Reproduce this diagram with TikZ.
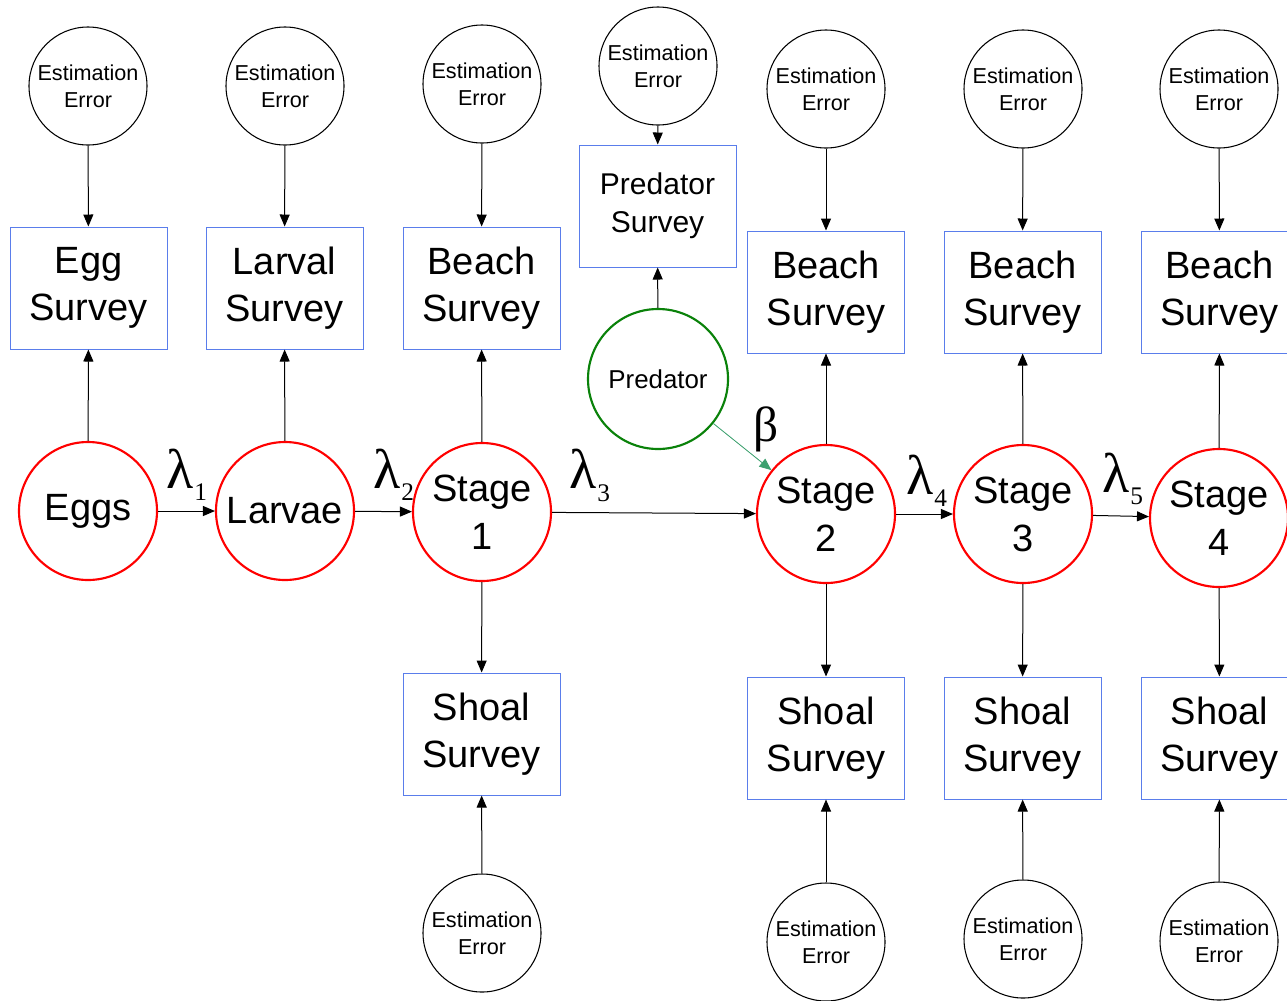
\documentclass[tikz,border=0pt]{standalone}
\usepackage{fontspec}
\setmainfont{Liberation Sans}
\newfontfamily\serifgreek{Liberation Serif}
\usetikzlibrary{arrows.meta}
\definecolor{boxblue}{RGB}{90,125,235}
\definecolor{predgreen}{RGB}{10,130,10}
\definecolor{betagreen}{RGB}{60,160,110}
\begin{document}
\begin{tikzpicture}[x=0.75pt,y=-0.75pt,
  errc/.style={circle,draw=black,line width=0.8pt,minimum size=88.5pt,inner sep=0pt,align=center,
    font=\fontsize{16.2pt}{20.25pt}\selectfont},
  survbox/.style={rectangle,draw=boxblue,line width=0.75pt,minimum width=117.75pt,minimum height=91.5pt,
    inner sep=0pt,align=center,font=\fontsize{28.5pt}{35.25pt}\selectfont},
  predbox/.style={survbox,font=\fontsize{22.5pt}{28.5pt}\selectfont},
  stagec/.style={circle,draw=red,line width=1.6pt,minimum size=103.5pt,inner sep=0pt,align=center,
    font=\fontsize{28.5pt}{36pt}\selectfont},
  predc/.style={circle,draw=predgreen,line width=1.6pt,minimum size=105pt,inner sep=0pt,
    font=\fontsize{19.4pt}{24pt}\selectfont},
  arr/.style={draw=black,line width=0.75pt,-{Triangle[length=9pt,width=7.5pt]}},
  lam/.style={anchor=base west,inner sep=0pt,font=\serifgreek\fontsize{42pt}{42pt}\selectfont},
  sub/.style={anchor=base west,inner sep=0pt,font=\serifgreek\fontsize{19pt}{19pt}\selectfont}
]
\clip (0,0) rectangle (1287,1000);
\useasboundingbox (0,0) rectangle (1287,1000);
\fill[white] (0,0) rectangle (1287,1000);

% top estimation error circles
\node[errc] (e1) at (88,86) {Estimation\\Error};
\node[errc] (e2) at (285,86) {Estimation\\Error};
\node[errc] (e3) at (482,84) {Estimation\\Error};
\node[errc] (ep) at (658,66) {Estimation\\Error};
\node[errc] (e4) at (826,89) {Estimation\\Error};
\node[errc] (e5) at (1023,89) {Estimation\\Error};
\node[errc] (e6) at (1219,89) {Estimation\\Error};

% upper survey boxes
\node[survbox] (egg) at (88.5,288) {Egg\\Survey};
\node[survbox] (larv) at (284.5,288) {Larval\\Survey};
\node[survbox] (b1) at (481.5,288) {Beach\\Survey};
\node[predbox] (ps) at (657.5,206) {Predator\\Survey};
\node[survbox] (b2) at (826,292) {Beach\\Survey};
\node[survbox] (b3) at (1022.5,292) {Beach\\Survey};
\node[survbox] (b4) at (1219.5,292) {Beach\\Survey};

% life stages
\node[stagec] (eggs) at (88,511) {Eggs};
\node[stagec] (larvae) at (285,511) {Larvae};
\node[stagec] (s1) at (482,512) {Stage\\1};
\node[stagec] (s2) at (826,514) {Stage\\2};
\node[stagec] (s3) at (1023,514) {Stage\\3};
\node[stagec] (s4) at (1219,518) {Stage\\4};
\node[predc] (pred) at (658,379) {Predator};

% lower survey boxes
\node[survbox] (sh1) at (481.5,734) {Shoal\\Survey};
\node[survbox] (sh2) at (826,738) {Shoal\\Survey};
\node[survbox] (sh3) at (1022.5,738) {Shoal\\Survey};
\node[survbox] (sh4) at (1219.5,738) {Shoal\\Survey};

% bottom estimation error circles
\node[errc] (f1) at (482,933) {Estimation\\Error};
\node[errc] (f2) at (826,942) {Estimation\\Error};
\node[errc] (f3) at (1023,939) {Estimation\\Error};
\node[errc] (f4) at (1219,941) {Estimation\\Error};

% error -> survey
\draw[arr] (e1) -- (egg);
\draw[arr] (e2) -- (larv);
\draw[arr] (e3) -- (b1);
\draw[arr] (ep) -- (ps);
\draw[arr] (e4) -- (b2);
\draw[arr] (e5) -- (b3);
\draw[arr] (e6) -- (b4);
\draw[arr] (f1) -- (sh1);
\draw[arr] (f2) -- (sh2);
\draw[arr] (f3) -- (sh3);
\draw[arr] (f4) -- (sh4);

% stage -> survey
\draw[arr] (eggs) -- (egg);
\draw[arr] (larvae) -- (larv);
\draw[arr] (s1) -- (b1);
\draw[arr] (pred) -- (ps);
\draw[arr] (s2) -- (b2);
\draw[arr] (s3) -- (b3);
\draw[arr] (s4) -- (b4);
\draw[arr] (s1) -- (sh1);
\draw[arr] (s2) -- (sh2);
\draw[arr] (s3) -- (sh3);
\draw[arr] (s4) -- (sh4);

% transitions
\draw[arr] (eggs) -- (larvae);
\draw[arr] (larvae) -- (s1);
\draw[arr] (s1) -- (s2);
\draw[arr] (s2) -- (s3);
\draw[arr] (s3) -- (s4);
\draw[line width=0.6pt,draw=betagreen,-{Triangle[length=9pt,width=7.5pt]},fill=betagreen] (pred) -- (s2);

% rate labels
\node[lam] (l1) at (166,488) {λ};
\node[sub] (l1s) at (194,500) {1};
\node[lam] (l2) at (373,488) {λ};
\node[sub] (l2s) at (401,500) {2};
\node[lam] (l3) at (569,488) {λ};
\node[sub] (l3s) at (597,501) {3};
\node[lam] (l4) at (906,494) {λ};
\node[sub] (l4s) at (934,506) {4};
\node[lam] (l5) at (1102,492) {λ};
\node[sub] (l5s) at (1130,504) {5};
\node[lam,font=\serifgreek\fontsize{37pt}{37pt}\selectfont] (beta) at (753,441) {β};
\end{tikzpicture}
\end{document}
